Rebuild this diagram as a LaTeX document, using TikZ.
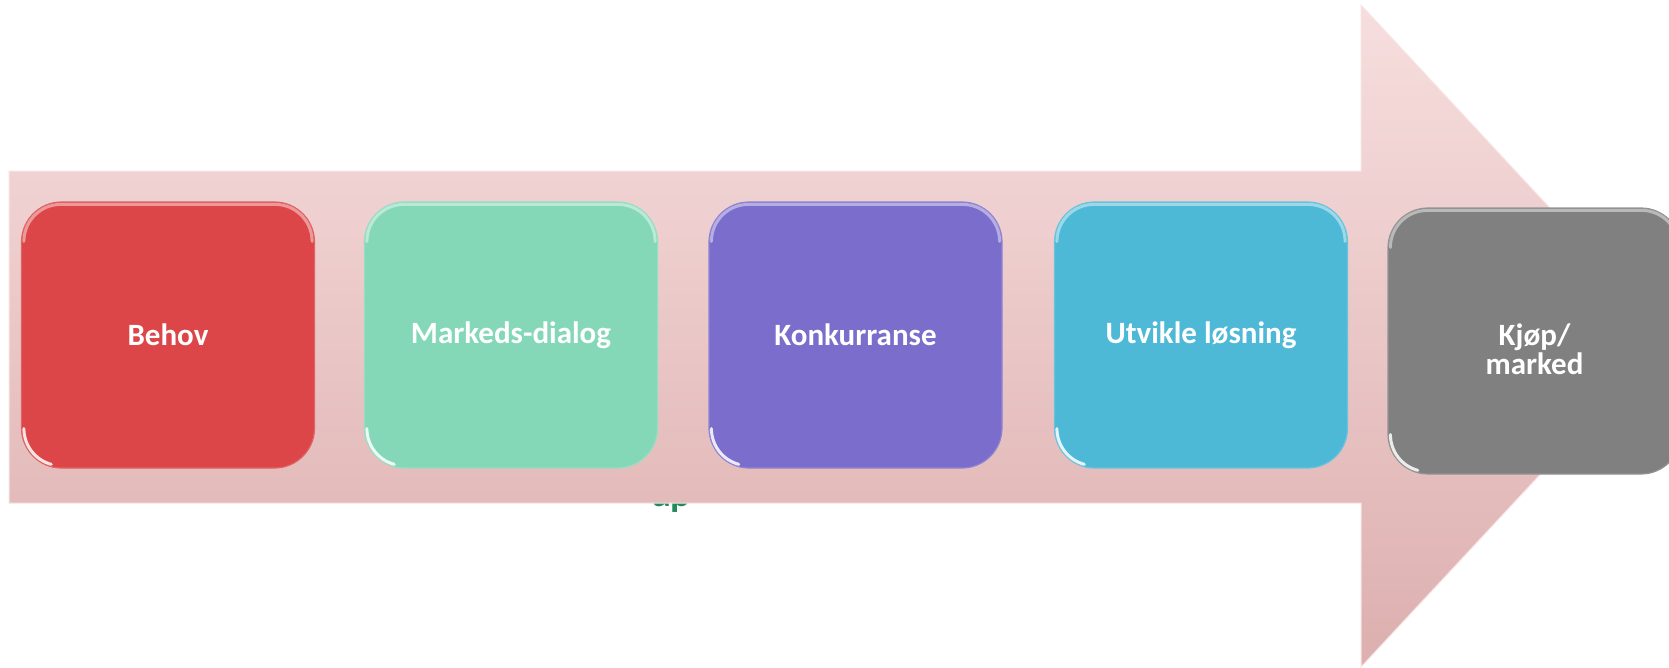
\documentclass[tikz,border=0pt]{standalone}
\usepackage{fontspec}
\setmainfont{Carlito}
\definecolor{arrowtop}{RGB}{247,222,222}
\definecolor{arrowbot}{RGB}{221,175,175}
\definecolor{arrowedge}{RGB}{248,228,228}
\definecolor{cred}{RGB}{220,70,72}
\definecolor{cgreen}{RGB}{132,216,183}
\definecolor{cpurple}{RGB}{123,109,203}
\definecolor{cblue}{RGB}{78,185,215}
\definecolor{cgrey}{RGB}{128,128,128}
\definecolor{textgreen}{RGB}{32,140,92}
\begin{document}
\begin{tikzpicture}[x=1pt,y=-1pt,
  stepbox/.style={rectangle, rounded corners=40pt, minimum width=293pt,
    minimum height=266pt, inner sep=0pt, text=white, align=center,
    font=\fontsize{31}{29}\selectfont\bfseries, line width=1.2pt},
  steptext/.style={inner sep=0pt, text=white, align=center,
    font=\fontsize{31}{29}\selectfont\bfseries},
  gloss/.style={white, opacity=0.45, line width=3pt, line cap=round},
  corner/.style={white, opacity=0.85, line width=3pt, line cap=round}
]
\useasboundingbox (0,0) rectangle (1669,667);
\node[text=textgreen, font=\fontsize{38}{42}\selectfont\bfseries, anchor=base west, inner sep=0pt] (frag) at (652,506) {ap};
\path[shade, top color=arrowtop, bottom color=arrowbot, draw=arrowedge, line width=1pt]
  (9,171) -- (1361,171) -- (1361,5) -- (1669,336) -- (1361,667) -- (1361,503) -- (9,503) -- cycle;
\node[stepbox, fill=cred, draw=cred!85!white] (behov) at (168,335) {Behov};
\node[stepbox, fill=cgreen, draw=cgreen!85!white] (dialog) at (511,335) {Markeds-dialog};
\node[stepbox, fill=cpurple, draw=cpurple!85!white] (konk) at (855.5,335) {Konkurranse};
\node[stepbox, fill=cblue, draw=cblue!85!white] (utv) at (1201,335) {Utvikle løsning};
\node[stepbox, fill=cgrey, draw=cgrey!85!white] (kjop) at (1534.5,341) {};
\node[steptext] (kjoptext) at ([yshift=-8pt]kjop.center) {Kjøp/\\marked};
\foreach \n in {behov,dialog,konk,utv,kjop}{
  \draw[gloss] ([xshift=3pt,yshift=-40pt]\n.north west) arc[start angle=180, end angle=90, radius=37pt]
    -- ([xshift=-40pt,yshift=-3pt]\n.north east) arc[start angle=90, end angle=0, radius=37pt];
  \draw[corner] ([xshift=3pt,yshift=40pt]\n.south west) arc[start angle=180, end angle=255, radius=37pt];
}
\end{tikzpicture}
\end{document}
